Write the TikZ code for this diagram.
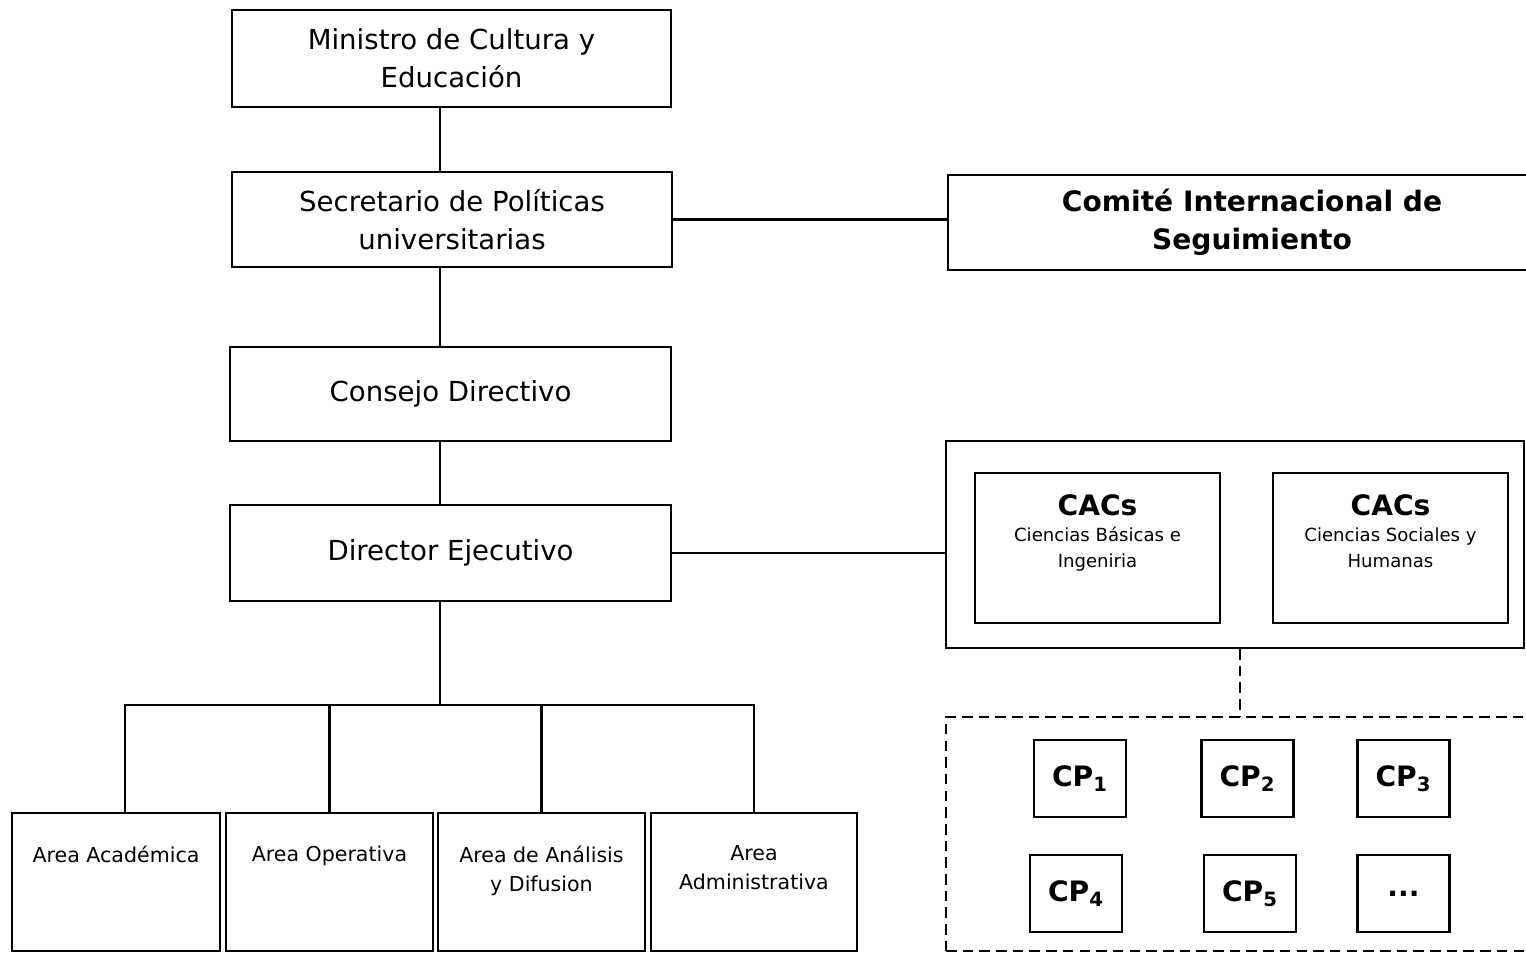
\documentclass[tikz,border=0pt]{standalone}
\usepackage{fontspec}
\setmainfont{DejaVu Sans}
\begin{document}
\begin{tikzpicture}[x=0.02cm, y=-0.02cm, line width=1.2pt,
  tam/.style 2 args={minimum width=#1*0.02cm, minimum height=#2*0.02cm},
  caja/.style={draw, line width=1.2pt, inner sep=0pt, align=center,
    font=\fontsize{15.7}{21.5}\selectfont},
  area/.style={draw, line width=1.2pt, inner sep=0pt, tam={207}{138}},
  arealabel/.style={anchor=north, inner sep=0pt, align=center, yshift=-33*0.02cm,
    font=\fontsize{11.7}{16.5}\selectfont},
  caclabel/.style={anchor=north, inner sep=0pt, align=center, yshift=-22*0.02cm,
    font=\fontsize{10.3}{14.8}\selectfont},
  cp/.style={draw, line width=1.2pt, inner sep=0pt, tam={92}{77},
    font=\fontsize{16}{19}\selectfont\bfseries},
  punteada/.style={line width=1pt, dash pattern=on 6pt off 3.5pt}]
\useasboundingbox (0,0) rectangle (1526,953);

% columna izquierda
\node [caja, tam={439}{97}] (ministro) at (451.5,58.5) {Ministro de Cultura y\\Educación};
\node [caja, tam={440}{95}] (secretario) at (452,219.5) {Secretario de Políticas\\universitarias};
\node [caja, tam={441}{94}] (consejo) at (450.5,394) {Consejo Directivo};
\node [caja, tam={441}{96}] (director) at (450.5,553) {Director Ejecutivo};
\coordinate (eje) at (440,705);

\draw (ministro.south -| eje) -- (secretario.north -| eje);
\draw (secretario.south -| eje) -- (consejo.north -| eje);
\draw (consejo.south -| eje) -- (director.north -| eje);
\draw (director.south -| eje) -- (eje);

% areas
\node [area, tam={208}{138}, label={[arealabel]north:Area Académica}] (academica) at (116,882) {};
\node [area, label={[arealabel]north:Area Operativa}] (operativa) at (329.5,882) {};
\node [area, label={[arealabel]north:Area de Análisis\\y Difusion}] (analisis) at (541.5,882) {};
\node [area, tam={206}{138}, label={[arealabel]north:Area\\Administrativa}] (administrativa) at (754,882) {};
\coordinate (bajada) at ([xshift=9*0.02cm]academica.north);

\draw (bajada) |- (administrativa.north |- eje) -- (administrativa.north);
\draw (operativa.north) -- (operativa.north |- eje);
\draw (analisis.north) -- (analisis.north |- eje);

% columna derecha
\node [caja, tam={608}{95}, font=\fontsize{16}{21.6}\selectfont\bfseries] (comite) at (1252,222.5) {Comité Internacional de\\Seguimiento};
\draw (secretario.east) -- (secretario.east -| comite.west);

\node [draw, line width=1.2pt, tam={578}{207}] (cacs) at (1235,544.5) {};
\node [draw, line width=1.2pt, tam={245}{150},
  label={[caclabel]north:{\fontsize{16}{19}\selectfont\bfseries CACs}\\Ciencias Básicas e\\Ingeniria}] (cacbasicas) at (1097.5,548) {};
\node [draw, line width=1.2pt, tam={235}{150},
  label={[caclabel]north:{\fontsize{16}{19}\selectfont\bfseries CACs}\\Ciencias Sociales y\\Humanas}] (cacsociales) at (1390.5,548) {};
\draw (director.east) -- (director.east -| cacs.west);

\node [draw, punteada, tam={614}{234}] (cps) at (1253,834) {};
\draw [punteada] ([xshift=5*0.02cm]cacs.south) -- ([xshift=5*0.02cm]cacs.south |- cps.north);

\node [cp] (cp1) at (1080,778.5) {CP\textsubscript{1}};
\node [cp] (cp2) at (1247.5,778.5) {CP\textsubscript{2}};
\node [cp] (cp3) at (1403.5,778.5) {CP\textsubscript{3}};
\node [cp] (cp4) at (1076,893.5) {CP\textsubscript{4}};
\node [cp] (cp5) at (1250,893.5) {CP\textsubscript{5}};
\node [cp] (cpmas) at (1403.5,893.5) {...};
\end{tikzpicture}
\end{document}
